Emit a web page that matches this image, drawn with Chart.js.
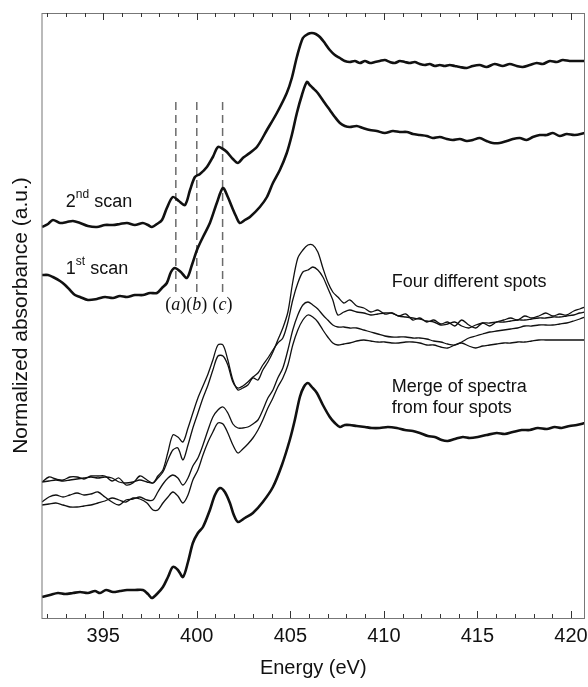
<!DOCTYPE html>
<html>
<head>
<meta charset="utf-8">
<title>N K-edge XANES</title>
<script src="https://cdn.jsdelivr.net/npm/chart.js@4.4.0/dist/chart.umd.min.js"></script>
<style>
  html, body { margin: 0; padding: 0; background: #fff; }
  #wrap { width: 588px; height: 687px; }
</style>
</head>
<body>
<div id="wrap"><canvas id="xasChart"></canvas></div>
<script>
// Energy ticks (eV)
const xTicks = [395, 400, 405, 410, 415, 420];

// Peak positions marked by dashed lines
const peakLabels = ["a", "b", "c"];
const peakEnergies = [398.88, 400.0, 401.38];

// 2nd scan
const scan2E = [391.73, 392.05, 392.31, 392.69, 393.06, 393.38, 393.76, 394.18, 394.66, 395.09,
  395.52, 395.89, 396.27, 396.69, 397.12, 397.39, 397.60, 397.87, 398.14, 398.40,
  398.72, 399.04, 399.37, 399.64, 399.90, 400.17, 400.54, 400.86, 401.13, 401.40,
  401.61, 401.93, 402.20, 402.46, 402.68, 403.21, 403.75, 404.28, 404.81, 405.08,
  405.35, 405.67, 405.94, 406.15, 406.36, 406.58, 406.84, 407.11, 407.38, 407.65,
  407.91, 408.18, 408.45, 408.72, 408.99, 409.25, 409.52, 409.78, 410.05, 410.32,
  410.59, 410.85, 411.12, 411.39, 411.65, 411.92, 412.19, 412.45, 412.72, 412.99,
  413.25, 413.52, 413.79, 414.06, 414.43, 414.75, 415.12, 415.49, 415.92, 416.35,
  416.73, 417.10, 417.42, 417.80, 418.17, 418.49, 418.87, 419.24, 419.56, 419.93,
  420.31, 420.74];
const scan2A = [3.91, 3.94, 3.98, 3.95, 3.96, 3.97, 3.95, 3.92, 3.91, 3.93,
  3.93, 3.94, 3.95, 3.93, 3.95, 3.93, 3.91, 3.94, 3.98, 4.10,
  4.21, 4.17, 4.13, 4.28, 4.41, 4.44, 4.51, 4.61, 4.71, 4.69,
  4.66, 4.59, 4.55, 4.60, 4.63, 4.71, 4.88, 5.05, 5.25, 5.40,
  5.61, 5.80, 5.84, 5.85, 5.84, 5.81, 5.75, 5.68, 5.63, 5.60,
  5.57, 5.56, 5.57, 5.55, 5.57, 5.55, 5.56, 5.57, 5.58, 5.56,
  5.55, 5.57, 5.56, 5.55, 5.56, 5.54, 5.53, 5.54, 5.52, 5.53,
  5.52, 5.53, 5.52, 5.51, 5.50, 5.52, 5.53, 5.51, 5.54, 5.52,
  5.54, 5.52, 5.51, 5.53, 5.55, 5.54, 5.57, 5.56, 5.58, 5.57,
  5.57, 5.57];

// 1st scan
const scan1E = [391.73, 392.05, 392.31, 392.69, 392.96, 393.22, 393.49, 393.76, 394.18, 394.66,
  395.09, 395.52, 395.89, 396.27, 396.69, 397.12, 397.50, 397.87, 398.14, 398.40,
  398.62, 398.83, 399.15, 399.47, 399.74, 400.01, 400.33, 400.70, 401.07, 401.40,
  401.66, 401.88, 402.09, 402.30, 402.57, 402.84, 403.37, 403.75, 404.07, 404.44,
  404.81, 405.08, 405.35, 405.62, 405.88, 406.04, 406.20, 406.42, 406.58, 406.84,
  407.11, 407.38, 407.65, 407.91, 408.18, 408.55, 408.88, 409.25, 409.62, 410.05,
  410.48, 410.85, 411.23, 411.55, 411.92, 412.29, 412.61, 412.99, 413.36, 413.68,
  414.06, 414.43, 414.75, 415.12, 415.49, 415.81, 416.19, 416.57, 416.89, 417.26,
  417.63, 417.96, 418.33, 418.71, 419.03, 419.40, 419.77, 420.20, 420.74];
const scan1A = [3.43, 3.43, 3.41, 3.37, 3.33, 3.28, 3.23, 3.21, 3.18, 3.19,
  3.21, 3.20, 3.22, 3.21, 3.23, 3.23, 3.25, 3.25, 3.30, 3.35,
  3.46, 3.50, 3.46, 3.40, 3.53, 3.68, 3.81, 3.95, 4.15, 4.30,
  4.21, 4.11, 4.02, 3.95, 3.98, 4.01, 4.11, 4.21, 4.35, 4.48,
  4.65, 4.83, 5.05, 5.23, 5.36, 5.33, 5.30, 5.26, 5.22, 5.15,
  5.08, 5.01, 4.95, 4.92, 4.91, 4.92, 4.90, 4.88, 4.87, 4.85,
  4.87, 4.86, 4.86, 4.84, 4.83, 4.82, 4.80, 4.81, 4.79, 4.78,
  4.79, 4.77, 4.78, 4.80, 4.77, 4.75, 4.75, 4.77, 4.79, 4.80,
  4.78, 4.81, 4.83, 4.83, 4.85, 4.82, 4.84, 4.83, 4.85];

// four different spots, sampled on one energy grid
const spotE = [391.73, 392.10, 392.47, 392.85, 393.22, 393.60, 393.97, 394.34, 394.72, 395.09,
  395.47, 395.84, 396.21, 396.59, 396.96, 397.34, 397.66, 397.92, 398.19, 398.46,
  398.72, 398.99, 399.26, 399.53, 399.79, 400.06, 400.33, 400.60, 400.86, 401.13,
  401.40, 401.66, 401.93, 402.20, 402.46, 402.73, 403.00, 403.27, 403.53, 403.80,
  404.07, 404.33, 404.60, 404.87, 405.13, 405.40, 405.67, 405.94, 406.20, 406.47,
  406.74, 407.00, 407.27, 407.54, 407.86, 408.18, 408.55, 408.93, 409.30, 409.68,
  410.05, 410.42, 410.80, 411.17, 411.55, 411.92, 412.29, 412.67, 413.04, 413.41,
  413.79, 414.16, 414.54, 414.91, 415.28, 415.66, 416.03, 416.41, 416.78, 417.15,
  417.53, 417.90, 418.28, 418.65, 419.03, 419.40, 419.77, 420.15, 420.47, 420.74];
const spot1A = [1.36, 1.41, 1.39, 1.38, 1.41, 1.41, 1.39, 1.42, 1.42, 1.42,
  1.37, 1.40, 1.33, 1.35, 1.42, 1.38, 1.35, 1.42, 1.48, 1.66,
  1.83, 1.81, 1.76, 1.90, 2.05, 2.20, 2.32, 2.44, 2.58, 2.73,
  2.73, 2.58, 2.38, 2.28, 2.30, 2.33, 2.40, 2.38, 2.48, 2.56,
  2.66, 2.78, 2.90, 3.06, 3.36, 3.60, 3.68, 3.73, 3.73, 3.66,
  3.50, 3.36, 3.26, 3.21, 3.15, 3.18, 3.12, 3.10, 3.06, 3.08,
  3.04, 3.05, 3.02, 3.04, 2.98, 3.00, 2.96, 2.98, 2.94, 2.96,
  2.92, 2.98, 2.93, 2.90, 2.95, 2.92, 2.96, 2.98, 3.00, 2.98,
  3.02, 3.00, 3.02, 3.05, 3.02, 3.04, 3.03, 3.07, 3.09, 3.11];
const spot2A = [1.36, 1.37, 1.38, 1.37, 1.38, 1.39, 1.40, 1.41, 1.40, 1.41,
  1.40, 1.36, 1.35, 1.36, 1.38, 1.36, 1.35, 1.40, 1.46, 1.58,
  1.68, 1.70, 1.58, 1.73, 1.90, 2.05, 2.20, 2.33, 2.48, 2.62,
  2.62, 2.53, 2.36, 2.30, 2.32, 2.36, 2.41, 2.45, 2.53, 2.60,
  2.68, 2.75, 2.80, 2.96, 3.18, 3.35, 3.46, 3.48, 3.51, 3.48,
  3.41, 3.30, 3.18, 3.03, 3.06, 3.08, 3.06, 3.05, 3.03, 3.04,
  3.05, 3.05, 3.02, 3.01, 3.00, 2.99, 2.97, 2.96, 2.93, 2.94,
  2.96, 2.92, 2.90, 2.93, 2.95, 2.95, 2.96, 2.96, 2.97, 2.98,
  2.98, 2.99, 3.00, 3.00, 3.01, 3.01, 3.02, 3.03, 3.05, 3.06];
const spot3A = [1.16, 1.21, 1.23, 1.21, 1.23, 1.25, 1.23, 1.24, 1.26, 1.21,
  1.16, 1.13, 1.18, 1.19, 1.21, 1.18, 1.18, 1.26, 1.34, 1.40,
  1.43, 1.40, 1.33, 1.40, 1.52, 1.60, 1.73, 1.88, 2.01, 2.08,
  2.11, 2.05, 1.94, 1.90, 1.90, 1.91, 1.94, 1.98, 2.08, 2.20,
  2.28, 2.40, 2.50, 2.68, 2.88, 3.03, 3.13, 3.16, 3.13, 3.09,
  3.03, 2.98, 2.93, 2.91, 2.91, 2.90, 2.90, 2.88, 2.86, 2.84,
  2.82, 2.81, 2.81, 2.81, 2.80, 2.80, 2.79, 2.77, 2.76, 2.74,
  2.73, 2.76, 2.80, 2.82, 2.84, 2.86, 2.87, 2.88, 2.89, 2.90,
  2.92, 2.92, 2.93, 2.93, 2.93, 2.94, 2.95, 2.97, 2.99, 3.01];
const spot4A = [1.13, 1.14, 1.15, 1.13, 1.11, 1.11, 1.12, 1.13, 1.15, 1.17,
  1.20, 1.18, 1.16, 1.20, 1.19, 1.15, 1.08, 1.08, 1.15, 1.21,
  1.26, 1.22, 1.15, 1.23, 1.38, 1.48, 1.63, 1.76, 1.86, 1.95,
  1.94, 1.85, 1.73, 1.65, 1.69, 1.74, 1.80, 1.88, 1.98, 2.10,
  2.20, 2.31, 2.40, 2.53, 2.73, 2.88, 2.98, 3.03, 3.01, 2.96,
  2.88, 2.81, 2.75, 2.73, 2.74, 2.75, 2.77, 2.78, 2.77, 2.76,
  2.76, 2.75, 2.75, 2.76, 2.76, 2.75, 2.73, 2.73, 2.71, 2.70,
  2.73, 2.75, 2.72, 2.70, 2.72, 2.73, 2.74, 2.75, 2.75, 2.76,
  2.76, 2.77, 2.78, 2.78, 2.78, 2.78, 2.78, 2.78, 2.78, 2.78];

// merge of spectra from four spots
const mergeE = [391.73, 392.15, 392.58, 392.96, 393.38, 393.76, 394.18, 394.56, 394.83, 395.15,
  395.52, 395.89, 396.27, 396.69, 397.12, 397.39, 397.60, 397.87, 398.19, 398.46,
  398.72, 398.99, 399.26, 399.53, 399.79, 400.06, 400.33, 400.70, 400.97, 401.24,
  401.50, 401.77, 401.98, 402.20, 402.57, 403.00, 403.53, 404.07, 404.55, 404.97,
  405.24, 405.51, 405.72, 405.94, 406.15, 406.42, 406.74, 407.11, 407.38, 407.65,
  407.91, 408.18, 408.55, 408.99, 409.36, 409.78, 410.21, 410.69, 411.12, 411.55,
  411.92, 412.35, 412.72, 413.09, 413.41, 413.79, 414.22, 414.59, 415.02, 415.49,
  416.03, 416.46, 416.89, 417.37, 417.80, 418.22, 418.71, 419.13, 419.50, 419.93,
  420.31, 420.74];
const mergeA = [0.21, 0.23, 0.25, 0.24, 0.25, 0.26, 0.25, 0.27, 0.25, 0.28,
  0.26, 0.27, 0.28, 0.28, 0.28, 0.24, 0.20, 0.24, 0.31, 0.41,
  0.51, 0.48, 0.41, 0.56, 0.75, 0.85, 0.91, 1.08, 1.23, 1.30,
  1.26, 1.15, 1.03, 0.96, 1.00, 1.05, 1.16, 1.31, 1.53, 1.78,
  1.98, 2.21, 2.31, 2.35, 2.31, 2.25, 2.13, 2.01, 1.95, 1.91,
  1.93, 1.93, 1.92, 1.91, 1.90, 1.90, 1.91, 1.90, 1.88, 1.87,
  1.85, 1.82, 1.81, 1.78, 1.77, 1.79, 1.81, 1.80, 1.81, 1.83,
  1.85, 1.84, 1.86, 1.88, 1.88, 1.90, 1.89, 1.91, 1.90, 1.92,
  1.93, 1.95];

const FONT = '"Liberation Sans", Arial, sans-serif';
const SERIF = '"Liberation Serif", "Times New Roman", serif';

function toPoints(xs, ys) {
  return xs.map((x, i) => ({ x: x, y: ys[i] }));
}

function curve(xs, ys, width) {
  return {
    data: toPoints(xs, ys),
    borderColor: "#111",
    borderWidth: width,
    pointRadius: 0,
    tension: 0.3,
    fill: false
  };
}

const datasets = [
  curve(scan2E, scan2A, 2.6),
  curve(scan1E, scan1A, 2.6),
  curve(spotE, spot1A, 1.3),
  curve(spotE, spot2A, 1.3),
  curve(spotE, spot3A, 1.3),
  curve(spotE, spot4A, 1.3),
  curve(mergeE, mergeA, 2.6)
];

// dashed markers for (a), (b), (c)
peakEnergies.forEach(e => {
  datasets.push({
    data: [{ x: e, y: 3.26 }, { x: e, y: 5.18 }],
    borderColor: "#6b6b6b",
    borderWidth: 1.5,
    borderDash: [8, 5],
    pointRadius: 0,
    tension: 0
  });
});

// frame with inward minor/major ticks on top and bottom
const frameTicks = {
  id: "frameTicks",
  afterDraw(chart) {
    const { ctx, chartArea: a, scales: { x } } = chart;
    ctx.save();
    ctx.strokeStyle = "#777";
    ctx.lineWidth = 1;
    ctx.strokeRect(a.left + 0.5, a.top + 0.5, a.right - a.left - 1, a.bottom - a.top);
    ctx.strokeStyle = "#333";
    for (let e = 392; e <= 420; e++) {
      const px = Math.round(x.getPixelForValue(e)) + 0.5;
      const len = e % 5 === 0 ? 7 : 4;
      ctx.beginPath();
      ctx.moveTo(px, a.bottom);
      ctx.lineTo(px, a.bottom - len);
      ctx.moveTo(px, a.top);
      ctx.lineTo(px, a.top + len);
      ctx.stroke();
    }
    ctx.restore();
  }
};

function supText(ctx, px, py, base, sup, rest) {
  ctx.font = "18px " + FONT;
  ctx.fillText(base, px, py);
  let w = ctx.measureText(base).width;
  ctx.font = "12px " + FONT;
  ctx.fillText(sup, px + w, py - 7);
  w += ctx.measureText(sup).width;
  ctx.font = "18px " + FONT;
  ctx.fillText(rest, px + w, py);
}

const annotations = {
  id: "annotations",
  afterDatasetsDraw(chart) {
    const { ctx, scales: { x, y } } = chart;
    ctx.save();
    ctx.fillStyle = "#111";
    ctx.textBaseline = "middle";
    ctx.textAlign = "left";

    supText(ctx, x.getPixelForValue(393.0), y.getPixelForValue(4.16), "2", "nd", " scan");
    supText(ctx, x.getPixelForValue(393.0), y.getPixelForValue(3.49), "1", "st", " scan");

    ctx.font = "18px " + FONT;
    ctx.fillText("Four different spots", x.getPixelForValue(410.42), y.getPixelForValue(3.36));
    ctx.fillText("Merge of spectra", x.getPixelForValue(410.42), y.getPixelForValue(2.31));
    ctx.fillText("from four spots", x.getPixelForValue(410.42), y.getPixelForValue(2.10));

    // (a)(b)(c) under the dashed lines
    const ly = y.getPixelForValue(3.13);
    peakLabels.forEach((lab, i) => {
      const cx = x.getPixelForValue(peakEnergies[i]);
      ctx.font = "18px " + SERIF;
      const wp = ctx.measureText("(").width;
      ctx.font = "italic 18px " + SERIF;
      const wl = ctx.measureText(lab).width;
      let sx = cx - (2 * wp + wl) / 2;
      ctx.font = "18px " + SERIF;
      ctx.fillText("(", sx, ly);
      ctx.font = "italic 18px " + SERIF;
      ctx.fillText(lab, sx + wp, ly);
      ctx.font = "18px " + SERIF;
      ctx.fillText(")", sx + wp + wl, ly);
    });
    ctx.restore();
  }
};

new Chart(document.getElementById("xasChart"), {
  type: "line",
  data: { datasets: datasets },
  options: {
    responsive: true,
    maintainAspectRatio: false,
    devicePixelRatio: 1,
    animation: false,
    layout: { padding: { top: 13, right: 3, left: 0, bottom: 0 } },
    plugins: {
      legend: { display: false },
      tooltip: { enabled: false }
    },
    scales: {
      x: {
        type: "linear",
        min: 391.7,
        max: 420.75,
        afterBuildTicks: s => { s.ticks = xTicks.map(v => ({ value: v })); },
        afterFit: s => {
          s.height = 69;
          s.paddingLeft = 0;
          s.paddingRight = 0;
        },
        ticks: {
          font: { family: FONT, size: 20 },
          color: "#111",
          padding: 6,
          autoSkip: false,
          maxRotation: 0
        },
        grid: { display: false, drawTicks: false },
        border: { display: false },
        title: {
          display: true,
          text: "Energy (eV)",
          color: "#111",
          font: { family: FONT, size: 20 },
          padding: { top: 0, bottom: 7 }
        }
      },
      y: {
        type: "linear",
        min: 0,
        max: 6.05,
        afterFit: s => {
          s.width = 41.5;
          s.paddingTop = 0;
          s.paddingBottom = 0;
        },
        ticks: { display: false },
        grid: { display: false, drawTicks: false },
        border: { display: false },
        title: {
          display: true,
          text: "Normalized absorbance (a.u.)",
          color: "#111",
          font: { family: FONT, size: 21 },
          padding: { top: 9, bottom: 0 }
        }
      }
    }
  },
  plugins: [frameTicks, annotations]
});
</script>
</body>
</html>
